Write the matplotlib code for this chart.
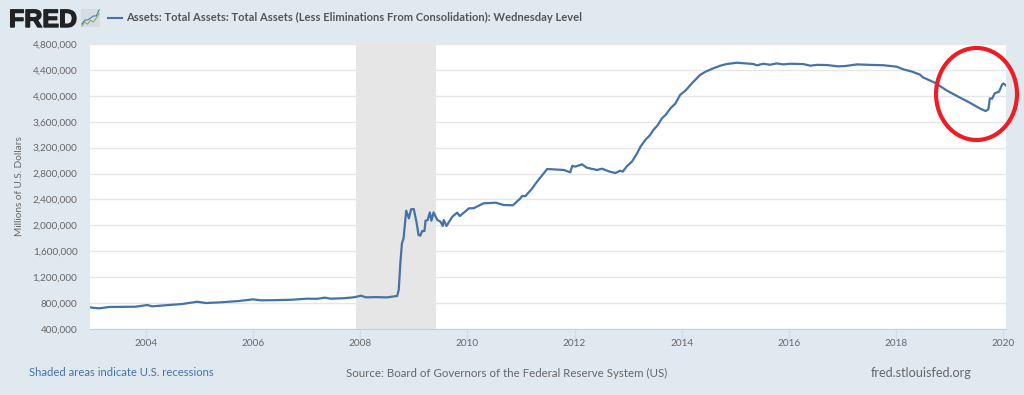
import matplotlib
matplotlib.use('Agg')
import matplotlib.pyplot as plt
import matplotlib.patheffects as pe
from matplotlib.patches import Ellipse, Rectangle

plt.rcParams['font.family'] = ['Lato', 'DejaVu Sans']

# decimal year / millions of dollars
years = [2002.96, 2003.0, 2003.13, 2003.2, 2003.32, 2003.5, 2003.81, 2004.03, 2004.12, 2004.43, 2004.68, 2004.96,
         2005.12, 2005.4, 2005.74, 2006.0, 2006.14, 2006.4, 2006.73, 2007.01, 2007.2, 2007.34, 2007.45, 2007.69,
         2007.88, 2008.02, 2008.1, 2008.3, 2008.5, 2008.69, 2008.72, 2008.75, 2008.78, 2008.81, 2008.86, 2008.91,
         2008.95, 2009.0, 2009.05, 2009.09, 2009.12, 2009.16, 2009.2, 2009.22, 2009.26, 2009.3, 2009.33, 2009.37,
         2009.44, 2009.5, 2009.54, 2009.56, 2009.61, 2009.72, 2009.81, 2009.86, 2010.03, 2010.12, 2010.3, 2010.53,
         2010.68, 2010.85, 2010.99, 2011.02, 2011.08, 2011.2, 2011.3, 2011.49, 2011.8, 2011.92, 2011.96, 2012.01,
         2012.14, 2012.23, 2012.42, 2012.51, 2012.64, 2012.76, 2012.85, 2012.9, 2012.98, 2013.07, 2013.16, 2013.23,
         2013.32, 2013.41, 2013.47, 2013.55, 2013.63, 2013.7, 2013.79, 2013.88, 2013.97, 2014.08, 2014.19, 2014.34,
         2014.45, 2014.59, 2014.72, 2014.84, 2015.03, 2015.34, 2015.4, 2015.52, 2015.65, 2015.77, 2015.9, 2016.02,
         2016.27, 2016.4, 2016.52, 2016.71, 2016.92, 2017.05, 2017.27, 2017.5, 2017.76, 2018.01, 2018.13, 2018.29,
         2018.44, 2018.5, 2018.72, 2018.95, 2019.16, 2019.35, 2019.56, 2019.67, 2019.72, 2019.75, 2019.79, 2019.84,
         2019.92, 2019.98, 2020.0, 2020.05]
assets = [735, 729, 719, 726, 740, 742, 744, 770, 750, 770, 786, 821,
          801, 812, 832, 858, 843, 845, 852, 868, 866, 884, 868, 875,
          889, 914, 889, 892, 888, 910, 1002, 1414, 1723, 1800, 2226, 2108,
          2248, 2253, 2057, 1851, 1840, 1913, 1913, 2072, 2083, 2200, 2072, 2200,
          2083, 2057, 1990, 2083, 1990, 2134, 2196, 2144, 2263, 2265, 2340, 2350,
          2314, 2310, 2417, 2453, 2450, 2560, 2674, 2870, 2855, 2819, 2921, 2906,
          2942, 2890, 2855, 2875, 2834, 2808, 2844, 2830, 2916, 2983, 3102, 3215,
          3318, 3395, 3472, 3545, 3653, 3705, 3807, 3880, 4013, 4090, 4193, 4321,
          4375, 4425, 4465, 4491, 4511, 4491, 4470, 4495, 4480, 4500, 4485, 4495,
          4490, 4465, 4478, 4475, 4455, 4460, 4485, 4478, 4472, 4450, 4410, 4375,
          4330, 4285, 4203, 4080, 3986, 3905, 3806, 3765, 3790, 3961, 3955, 4039,
          4064, 4178, 4190, 4160]
recession = [2007.92, 2009.42]
year_ticks = [2004, 2006, 2008, 2010, 2012, 2014, 2016, 2018, 2020]
value_ticks = [400, 800, 1200, 1600, 2000, 2400, 2800, 3200, 3600, 4000, 4400, 4800]

# the small chart icon beside the logo
icon_x = [0, 1, 2, 3, 4, 5, 6]
icon_green = [1, 3, 2, 4, 3, 5, 7]
icon_blue = [2, 4, 4, 5, 6, 6, 9]

W, H = 1024, 395
BG = '#e1e9f0'
BLUE = '#4572a7'
TEXT = '#666666'

fig = plt.figure(figsize=(W / 100, H / 100), dpi=100, facecolor=BG)
ax = fig.add_axes([90 / W, 1 - 329 / H, 916 / W, 285 / H])

ax.axvspan(recession[0], recession[1], color='#e6e6e6', lw=0, zorder=1)
ax.plot(years, assets, color=BLUE, lw=1.6, zorder=3)

ax.set_xlim(2002.96, 2020.05)
ax.set_ylim(400, 4800)
ax.set_xticks(year_ticks)
ax.set_yticks(value_ticks)
ax.set_yticklabels([f'{v * 1000:,}' for v in value_ticks])
ax.grid(axis='y', color='#e6e6e6', lw=1, zorder=0)
ax.tick_params(axis='y', length=0, pad=9, labelsize=7.2, labelcolor=TEXT)
ax.tick_params(axis='x', length=7, width=1, color='#d0dcea', pad=0.5, labelsize=7.2, labelcolor=TEXT)
for side in ['top', 'left', 'right']:
    ax.spines[side].set_visible(False)
ax.spines['bottom'].set_color('#c0d0e0')

# red hand drawn circle, hangs over the axes edge
ax.add_patch(Ellipse((2019.5, 4028), 81 / 53.65, 92 / 285 * 4400, fill=False,
                     edgecolor='#ee1c25', lw=3, zorder=5, clip_on=False))

ax.set_ylabel('Millions of U.S. Dollars', fontsize=7.2, color=TEXT)
ax.yaxis.set_label_coords(-66 / 916, 0.5)

# header
logo = fig.text(9 / W, 1 - 27 / H, 'FRED', fontsize=18, fontweight='bold', family='Liberation Sans', color='#222222')
logo.set_path_effects([pe.withStroke(linewidth=1, foreground='#222222')])
icon = fig.add_axes([81 / W, 1 - 27 / H, 19 / W, 18 / H])
icon.plot(icon_x, icon_green, color='#7aa65a', lw=0.7)
icon.plot(icon_x, icon_blue, color=BLUE, lw=0.7)
icon.axis('off')
fig.add_artist(Rectangle((81 / W, 1 - 27 / H), 19 / W, 18 / H, transform=fig.transFigure, color='#d5dde3', lw=0, zorder=0))
fig.add_artist(plt.Line2D([108 / W, 122 / W], [1 - 17.5 / H, 1 - 17.5 / H], color=BLUE, lw=1.5))
fig.text(126 / W, 1 - 17.5 / H, 'Assets: Total Assets: Total Assets (Less Eliminations From Consolidation): Wednesday Level',
         fontsize=8, fontweight='bold', color='#555555', va='center')

# footer
fig.text(29 / W, 1 - 373 / H, 'Shaded areas indicate U.S. recessions', fontsize=8.1, color=BLUE, va='center')
fig.text(507 / W, 1 - 373 / H, 'Source: Board of Governors of the Federal Reserve System (US)', fontsize=8.3,
         color=TEXT, va='center', ha='center')
fig.text(972 / W, 1 - 373 / H, 'fred.stlouisfed.org', fontsize=9.1, color=TEXT, va='center', ha='right')

fig.savefig('out.png', dpi=100, facecolor=BG)
